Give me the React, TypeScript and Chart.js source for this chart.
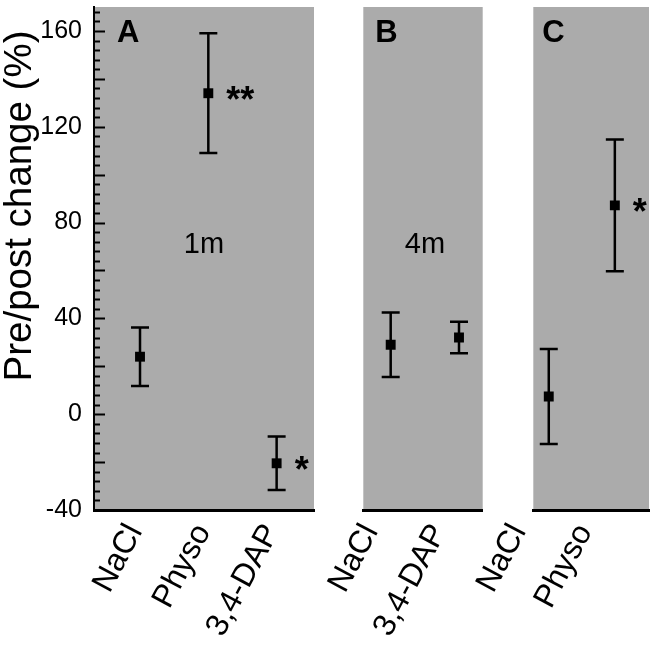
import React, { useEffect, useRef } from 'react';
import { Chart, registerables } from 'chart.js';

Chart.register(...registerables);

// ---------- data ----------
const panelACategories = ['NaCl', 'Physo', '3,4-DAP'];
const panelAMeans = [24, 134, -20.5];
const panelAErrors = [12.2, 25, 11.2];
const panelAStars = ['', '**', '*'];

const panelBCategories = ['NaCl', '3,4-DAP'];
const panelBMeans = [29, 32];
const panelBErrors = [13.5, 6.6];
const panelBStars = ['', ''];

const panelCCategories = ['NaCl', 'Physo'];
const panelCMeans = [7.4, 87.2];
const panelCErrors = [19.8, 27.5];
const panelCStars = ['', '*'];

const yTickValues = [-40, 0, 40, 80, 120, 160];
const yMin = -40;
const yMax = 170;
const yTitle = 'Pre/post change (%)';

const FONT = '"Liberation Sans", Arial, Helvetica, sans-serif';
const W = 656;
const H = 653;

type Panel = {
  letter: string;
  time: string;
  cats: string[];
  means: number[];
  errs: number[];
  stars: string[];
  xMin: number;
  xMax: number;
  padLeft: number;
  padRight: number;
  showY: boolean;
  letterDx: number;
  timeDx: number;
  labelOffset: number;
};

const panels: Panel[] = [
  {
    letter: 'A', time: '1m', cats: panelACategories, means: panelAMeans, errs: panelAErrors, stars: panelAStars,
    xMin: 0.3265, xMax: 3.547, padLeft: 0, padRight: W - 314, showY: true, letterDx: 23, timeDx: 0, labelOffset: -5,
  },
  {
    letter: 'B', time: '4m', cats: panelBCategories, means: panelBMeans, errs: panelBErrors, stars: panelBStars,
    xMin: 0.599, xMax: 2.347, padLeft: 363.3, padRight: W - 482.7, showY: false, letterDx: 12, timeDx: 2, labelOffset: -20,
  },
  {
    letter: 'C', time: '', cats: panelCCategories, means: panelCMeans, errs: panelCErrors, stars: panelCStars,
    xMin: 0.766, xMax: 2.517, padLeft: 533.3, padRight: W - 653, showY: false, letterDx: 9, timeDx: 0, labelOffset: -30,
  },
];

function makeConfig(p: Panel): any {
  const panelPlugin = {
    id: 'panelDecor' + p.letter,
    beforeDraw(chart: any) {
      const { ctx, chartArea } = chart;
      ctx.save();
      ctx.fillStyle = '#ababab';
      ctx.fillRect(chartArea.left, chartArea.top, chartArea.right - chartArea.left, chartArea.bottom - chartArea.top);
      ctx.restore();
    },
    beforeDatasetsDraw(chart: any) {
      const { ctx } = chart;
      const xs = chart.scales.x;
      const ys = chart.scales.y;
      ctx.save();
      ctx.strokeStyle = '#000';
      ctx.lineWidth = 2.5;
      p.means.forEach((m, i) => {
        const px = xs.getPixelForValue(i + 1);
        const top = ys.getPixelForValue(m + p.errs[i]);
        const bot = ys.getPixelForValue(m - p.errs[i]);
        ctx.beginPath();
        ctx.moveTo(px, top);
        ctx.lineTo(px, bot);
        ctx.moveTo(px - 9, top);
        ctx.lineTo(px + 9, top);
        ctx.moveTo(px - 9, bot);
        ctx.lineTo(px + 9, bot);
        ctx.stroke();
      });
      ctx.restore();
    },
    afterDraw(chart: any) {
      const { ctx, chartArea } = chart;
      const xs = chart.scales.x;
      const ys = chart.scales.y;
      ctx.save();
      ctx.fillStyle = '#000';
      // inward tick marks on y axis
      if (p.showY) {
        ctx.strokeStyle = '#000';
        ctx.lineWidth = 2;
        for (let v = yMin; v <= yMax; v += 4) {
          const py = Math.round(ys.getPixelForValue(v)) + 0.5;
          const len = v % 20 === 0 ? 11 : 6;
          ctx.beginPath();
          ctx.moveTo(chartArea.left, py);
          ctx.lineTo(chartArea.left + len, py);
          ctx.stroke();
        }
        // y title
        ctx.save();
        ctx.translate(20, 206);
        ctx.rotate(-Math.PI / 2);
        ctx.font = `38.5px ${FONT}`;
        ctx.textAlign = 'center';
        ctx.textBaseline = 'middle';
        ctx.fillText(yTitle, 0, 0);
        ctx.restore();
      }
      // panel letter
      ctx.font = `bold 31px ${FONT}`;
      ctx.textAlign = 'left';
      ctx.textBaseline = 'alphabetic';
      ctx.fillText(p.letter, chartArea.left + p.letterDx, 42);
      // time label
      if (p.time) {
        ctx.font = `29px ${FONT}`;
        ctx.textAlign = 'center';
        ctx.fillText(p.time, (chartArea.left + chartArea.right) / 2 + p.timeDx, 253);
      }
      // significance stars
      ctx.font = `bold 36px ${FONT}`;
      ctx.textAlign = 'left';
      p.stars.forEach((s, i) => {
        if (!s) return;
        const px = xs.getPixelForValue(i + 1);
        const py = ys.getPixelForValue(p.means[i]);
        ctx.fillText(s, px + 18, py + 19);
      });
      ctx.restore();
    },
  };

  return {
    type: 'scatter',
    data: {
      datasets: [
        {
          data: p.means.map((m, i) => ({ x: i + 1, y: m })),
          pointStyle: 'rect',
          pointRadius: 7,
          pointHoverRadius: 7,
          backgroundColor: '#000',
          borderColor: '#000',
          borderWidth: 0,
        },
      ],
    },
    options: {
      responsive: false,
      animation: false,
      devicePixelRatio: 1,
      events: [],
      layout: { padding: { left: p.padLeft, right: p.padRight, top: 2.5, bottom: 0 } },
      plugins: { legend: { display: false }, tooltip: { enabled: false } },
      scales: {
        x: {
          type: 'linear',
          min: p.xMin,
          max: p.xMax,
          afterBuildTicks: (s: any) => {
            s.ticks = p.cats.map((_, i) => ({ value: i + 1 }));
          },
          afterFit: (s: any) => {
            s.height = H - 510;
            s.paddingLeft = 0;
            s.paddingRight = 0;
            s.paddingTop = 0;
            s.paddingBottom = 0;
          },
          grid: { display: false, drawTicks: false },
          border: { display: true, color: '#000', width: 3 },
          ticks: {
            callback: (v: number) => p.cats[Math.round(v) - 1] ?? '',
            minRotation: 62,
            maxRotation: 62,
            autoSkip: false,
            color: '#000',
            padding: 8,
            labelOffset: p.labelOffset,
            font: { size: 32, family: FONT },
          },
        },
        y: {
          type: 'linear',
          display: p.showY,
          min: yMin,
          max: yMax,
          afterBuildTicks: (s: any) => {
            s.ticks = yTickValues.map((v) => ({ value: v }));
          },
          afterFit: (s: any) => {
            s.width = p.showY ? 94 : 0;
            s.paddingLeft = 0;
            s.paddingRight = 0;
            s.paddingTop = 0;
            s.paddingBottom = 0;
          },
          grid: { display: false, drawTicks: false },
          border: { display: true, color: '#000', width: 2 },
          ticks: {
            color: '#000',
            padding: 12,
            font: { size: 25, family: FONT },
          },
        },
      },
    },
    plugins: [panelPlugin],
  };
}

function PanelChart({ panel }: { panel: Panel }) {
  const ref = useRef<HTMLCanvasElement | null>(null);
  useEffect(() => {
    if (!ref.current) return;
    const chart = new Chart(ref.current, makeConfig(panel));
    return () => chart.destroy();
  }, [panel]);
  return (
    <canvas
      ref={ref}
      width={W}
      height={H}
      style={{ position: 'absolute', left: 0, top: 0, width: W, height: H }}
    />
  );
}

export default function App() {
  Chart.defaults.font.family = FONT;
  return (
    <div style={{ position: 'absolute', left: 0, top: 0, width: W, height: H, background: '#fff' }}>
      {panels.map((p) => (
        <PanelChart key={p.letter} panel={p} />
      ))}
    </div>
  );
}
